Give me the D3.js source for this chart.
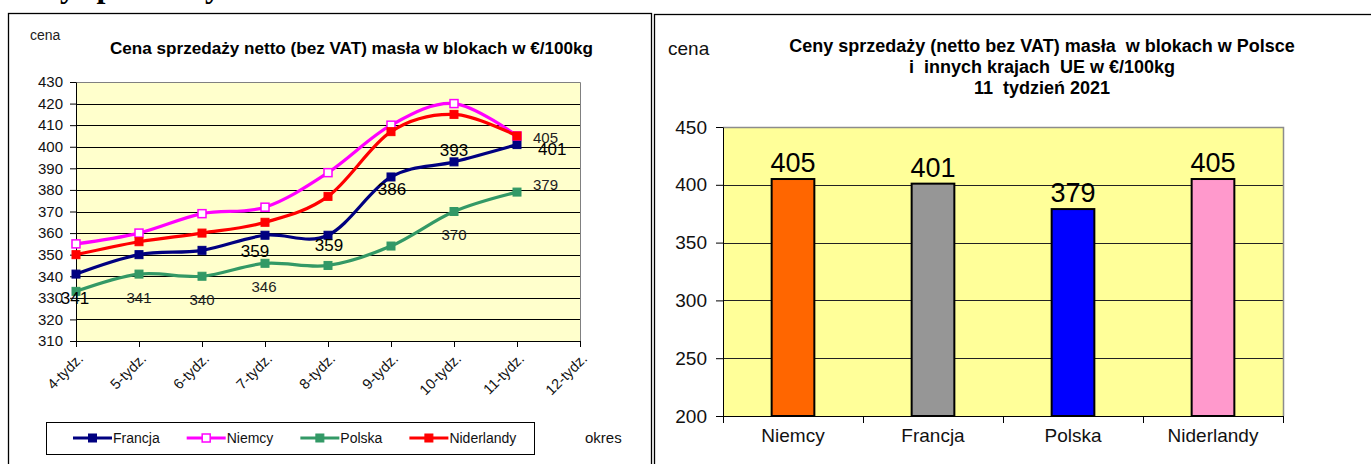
<!DOCTYPE html>
<html>
<head>
<meta charset="utf-8">
<script src="https://cdn.jsdelivr.net/npm/d3@7/dist/d3.min.js"></script>
<style>
  body { margin: 0; background: #fff; }
  svg text { font-family: "Liberation Sans", Arial, sans-serif; }
</style>
</head>
<body>
<svg id="chart" width="1371" height="464"></svg>
<script>
// left chart: weekly prices
var weeks = ["4-tydz.", "5-tydz.", "6-tydz.", "7-tydz.", "8-tydz.", "9-tydz.", "10-tydz.", "11-tydz.", "12-tydz."];
var francja = [341, 350, 352, 359, 359, 386, 393, 401];
var niemcy = [355, 360, 369, 372, 388, 410, 420, 405];
var polska = [333, 341, 340, 346, 345, 354, 370, 379];
var niderlandy = [350, 356, 360, 365, 377, 407, 415, 405];
var leftTicks = [310, 320, 330, 340, 350, 360, 370, 380, 390, 400, 410, 420, 430];

// right chart: week 11
var countries = ["Niemcy", "Francja", "Polska", "Niderlandy"];
var week11 = [405, 401, 379, 405];
var rightTicks = [200, 250, 300, 350, 400, 450];

var series = [
    {name: "Francja", values: francja, color: "#000080", open: false},
    {name: "Niemcy", values: niemcy, color: "#ff00ff", open: true},
    {name: "Polska", values: polska, color: "#339966", open: false},
    {name: "Niderlandy", values: niderlandy, color: "#ff0000", open: false}
];
var barColors = ["#ff6600", "#969696", "#0000ff", "#ff99cc"];

// which point values are printed, and where the label sits next to the point
var labelPlacement = [
    {s: 0, i: 0, dx: -1, dy: 24, big: true},
    {s: 0, i: 3, dx: -10, dy: 16, big: true},
    {s: 0, i: 4, dx: 1, dy: 10, big: true},
    {s: 0, i: 5, dx: 1, dy: 12, big: true},
    {s: 0, i: 6, dx: 0, dy: -12, big: true},
    {s: 0, i: 7, dx: 21, dy: 4, big: true, start: true},
    {s: 2, i: 1, dx: 0, dy: 24},
    {s: 2, i: 2, dx: 0, dy: 23},
    {s: 2, i: 3, dx: -1, dy: 23},
    {s: 2, i: 6, dx: 0, dy: 23},
    {s: 2, i: 7, dx: 16, dy: -7, start: true},
    {s: 3, i: 7, dx: 16, dy: 2, start: true}
];

var svg = d3.select("#chart");

svg.append("rect").attr("width", 1371).attr("height", 464).attr("fill", "#fff");

// cut-off heading of the page above the charts
svg.append("text")
   .attr("x", 5)
   .attr("y", -3)
   .style("font-family", "'Liberation Serif', 'Times New Roman', serif")
   .style("font-weight", "bold")
   .style("font-size", "32px")
   .text("Ceny sprzedaży masła w blokach");

// frames
svg.append("rect")
   .attr("x", 8.5).attr("y", 13.5)
   .attr("width", 643).attr("height", 480)
   .attr("fill", "none").attr("stroke", "#000").attr("stroke-width", 1.3);
svg.append("rect")
   .attr("x", 654.5).attr("y", 14.5)
   .attr("width", 740).attr("height", 480)
   .attr("fill", "none").attr("stroke", "#000").attr("stroke-width", 1.3);

// ---------------- left: line chart ----------------
var L = {left: 76, right: 580, top: 82, bottom: 341};

var x = d3.scalePoint().domain(weeks).range([L.left, L.right]);
var y = d3.scaleLinear().domain([310, 430]).range([L.bottom, L.top]);

var left = svg.append("g").attr("class", "leftChart");

left.append("text")
    .attr("x", 30).attr("y", 35).attr("dy", "0.35em")
    .style("font-size", "14px").attr("fill", "#222")
    .text("cena");

left.append("text")
    .attr("x", 110).attr("y", 48).attr("dy", "0.35em")
    .attr("textLength", 483).attr("lengthAdjust", "spacingAndGlyphs")
    .style("font-size", "16px").style("font-weight", "bold")
    .text("Cena sprzedaży netto (bez VAT) masła w blokach w €/100kg");

left.append("rect")
    .attr("x", L.left).attr("y", L.top)
    .attr("width", L.right - L.left).attr("height", L.bottom - L.top)
    .attr("fill", "#ffffcc");

left.selectAll(".grid")
    .data(leftTicks.slice(1, -1))
    .enter()
    .append("line")
    .attr("class", "grid")
    .attr("x1", L.left).attr("x2", L.right)
    .attr("y1", function(d) { return Math.round(y(d)) + 0.5; })
    .attr("y2", function(d) { return Math.round(y(d)) + 0.5; })
    .attr("stroke", "#000");

// top and right border of the plot
left.append("path")
    .attr("d", "M" + L.left + "," + (L.top + 0.5) + "H" + (L.right + 0.5) + "V" + L.bottom)
    .attr("fill", "none").attr("stroke", "#808080");

var yAxisL = left.append("g")
    .attr("transform", "translate(" + L.left + ",0)")
    .call(d3.axisLeft(y).tickValues(leftTicks).tickSize(6).tickSizeOuter(0).tickPadding(7));
var xAxisL = left.append("g")
    .attr("transform", "translate(0," + L.bottom + ")")
    .call(d3.axisBottom(x).tickSize(6).tickSizeOuter(0).tickPadding(3));

[yAxisL, xAxisL].forEach(function(ax) {
    ax.attr("font-family", null).attr("font-size", null);
    ax.selectAll("path, line").attr("stroke", "#000");
    ax.selectAll("text").attr("fill", "#111");
});
yAxisL.selectAll("text").style("font-size", "15px");
xAxisL.selectAll("text")
    .style("font-size", "14.5px")
    .attr("text-anchor", "end")
    .attr("x", null).attr("y", null).attr("dy", "0.35em")
    .attr("transform", "translate(4,15) rotate(-45)");

var line = d3.line()
    .x(function(d, i) { return x(weeks[i]); })
    .y(function(d) { return y(d); })
    .curve(d3.curveCatmullRom.alpha(0));

series.forEach(function(s) {
    var g = left.append("g").attr("class", "series");
    g.append("path")
     .attr("d", line(s.values))
     .attr("fill", "none")
     .attr("stroke", s.color)
     .attr("stroke-width", 3.2);
    g.selectAll("rect")
     .data(s.values)
     .enter()
     .append("rect")
     .attr("x", function(d, i) { return x(weeks[i]) - 4; })
     .attr("y", function(d) { return y(d) - 4; })
     .attr("width", 8).attr("height", 8)
     .attr("fill", s.open ? "#fff" : s.color)
     .attr("stroke", s.color)
     .attr("stroke-width", s.open ? 1.5 : 1);
});

left.selectAll(".pointLabel")
    .data(labelPlacement)
    .enter()
    .append("text")
    .attr("class", "pointLabel")
    .attr("x", function(d) { return x(weeks[d.i]) + d.dx; })
    .attr("y", function(d) { return y(series[d.s].values[d.i]) + d.dy; })
    .attr("dy", "0.35em")
    .attr("text-anchor", function(d) { return d.start ? "start" : "middle"; })
    .attr("fill", function(d) { return d.big ? "#000" : "#222"; })
    .style("font-size", function(d) { return d.big ? "17px" : "15px"; })
    .text(function(d) { return series[d.s].values[d.i]; });

// legend
var legend = left.append("g").attr("class", "legend");
legend.append("rect")
    .attr("x", 46.5).attr("y", 422.5)
    .attr("width", 488).attr("height", 32)
    .attr("fill", "#fff").attr("stroke", "#000");

var lx = 73;
series.forEach(function(s) {
    var item = legend.append("g").attr("transform", "translate(" + lx + ",438)");
    item.append("line")
        .attr("x1", 0).attr("x2", 39)
        .attr("stroke", s.color).attr("stroke-width", 3.2);
    item.append("rect")
        .attr("x", 15.5).attr("y", -4)
        .attr("width", 8).attr("height", 8)
        .attr("fill", s.open ? "#fff" : s.color)
        .attr("stroke", s.color).attr("stroke-width", s.open ? 1.5 : 1);
    var t = item.append("text")
        .attr("x", 40).attr("dy", "0.35em")
        .style("font-size", "14px").attr("fill", "#111")
        .text(s.name);
    lx += 40 + t.node().getComputedTextLength() + 27;
});

left.append("text")
    .attr("x", 585).attr("y", 438).attr("dy", "0.35em")
    .style("font-size", "15px").attr("fill", "#111")
    .text("okres");

// ---------------- right: bar chart ----------------
var R = {left: 723, right: 1283, top: 127, bottom: 416};

var xb = d3.scaleBand().domain(countries).range([R.left, R.right])
    .paddingInner(0.695).paddingOuter(0.3475);
var yb = d3.scaleLinear().domain([200, 450]).range([R.bottom, R.top]);

var right = svg.append("g").attr("class", "rightChart");

right.append("text")
    .attr("x", 668).attr("y", 48).attr("dy", "0.35em")
    .style("font-size", "19px").attr("fill", "#111")
    .text("cena");

var titleLines = ["Ceny sprzedaży (netto bez VAT) masła  w blokach w Polsce", "i  innych krajach  UE w €/100kg", "11  tydzień 2021"];
right.selectAll(".title")
    .data(titleLines)
    .enter()
    .append("text")
    .attr("class", "title")
    .attr("x", 1042)
    .attr("y", function(d, i) { return 46 + i * 21; })
    .attr("dy", "0.35em")
    .attr("text-anchor", "middle")
    .style("white-space", "pre")
    .style("font-size", "18px").style("font-weight", "bold")
    .text(function(d) { return d; });

right.append("rect")
    .attr("x", R.left).attr("y", R.top)
    .attr("width", R.right - R.left).attr("height", R.bottom - R.top)
    .attr("fill", "#ffff99");

right.selectAll(".grid")
    .data(rightTicks.slice(1, -1))
    .enter()
    .append("line")
    .attr("class", "grid")
    .attr("x1", R.left).attr("x2", R.right)
    .attr("y1", function(d) { return Math.round(yb(d)) + 0.5; })
    .attr("y2", function(d) { return Math.round(yb(d)) + 0.5; })
    .attr("stroke", "#222");

right.append("path")
    .attr("d", "M" + R.left + "," + (R.top + 0.5) + "H" + (R.right + 0.5) + "V" + R.bottom)
    .attr("fill", "none").attr("stroke", "#8c8c8c").attr("stroke-width", 1.5);

right.selectAll(".bar")
    .data(week11)
    .enter()
    .append("rect")
    .attr("class", "bar")
    .attr("x", function(d, i) { return xb(countries[i]); })
    .attr("y", function(d) { return yb(d); })
    .attr("width", xb.bandwidth())
    .attr("height", function(d) { return yb(200) - yb(d); })
    .attr("fill", function(d, i) { return barColors[i]; })
    .attr("stroke", "#000").attr("stroke-width", 2);

right.selectAll(".barLabel")
    .data(week11)
    .enter()
    .append("text")
    .attr("class", "barLabel")
    .attr("x", function(d, i) { return xb(countries[i]) + xb.bandwidth() / 2; })
    .attr("y", function(d) { return yb(d) - 7; })
    .attr("text-anchor", "middle")
    .style("font-size", "27px").attr("fill", "#000")
    .text(function(d) { return d; });

var yAxisR = right.append("g")
    .attr("transform", "translate(" + R.left + ",0)")
    .call(d3.axisLeft(yb).tickValues(rightTicks).tickSize(7).tickSizeOuter(0).tickPadding(9));
var xAxisR = right.append("g")
    .attr("transform", "translate(0," + R.bottom + ")")
    .call(d3.axisBottom(xb).tickSize(0).tickPadding(13));

// category separators under the axis
xAxisR.selectAll(".sep")
    .data(d3.range(countries.length + 1))
    .enter()
    .append("line")
    .attr("class", "sep")
    .attr("x1", function(d) { return R.left + d * xb.step() + 0.5; })
    .attr("x2", function(d) { return R.left + d * xb.step() + 0.5; })
    .attr("y2", 7)
    .attr("stroke", "#000");

[yAxisR, xAxisR].forEach(function(ax) {
    ax.attr("font-family", null).attr("font-size", null);
    ax.selectAll("path, line").attr("stroke", "#000");
    ax.selectAll("text").attr("fill", "#111");
});
yAxisR.selectAll("text").style("font-size", "19px");
xAxisR.selectAll("text").style("font-size", "19px");
</script>
</body>
</html>
